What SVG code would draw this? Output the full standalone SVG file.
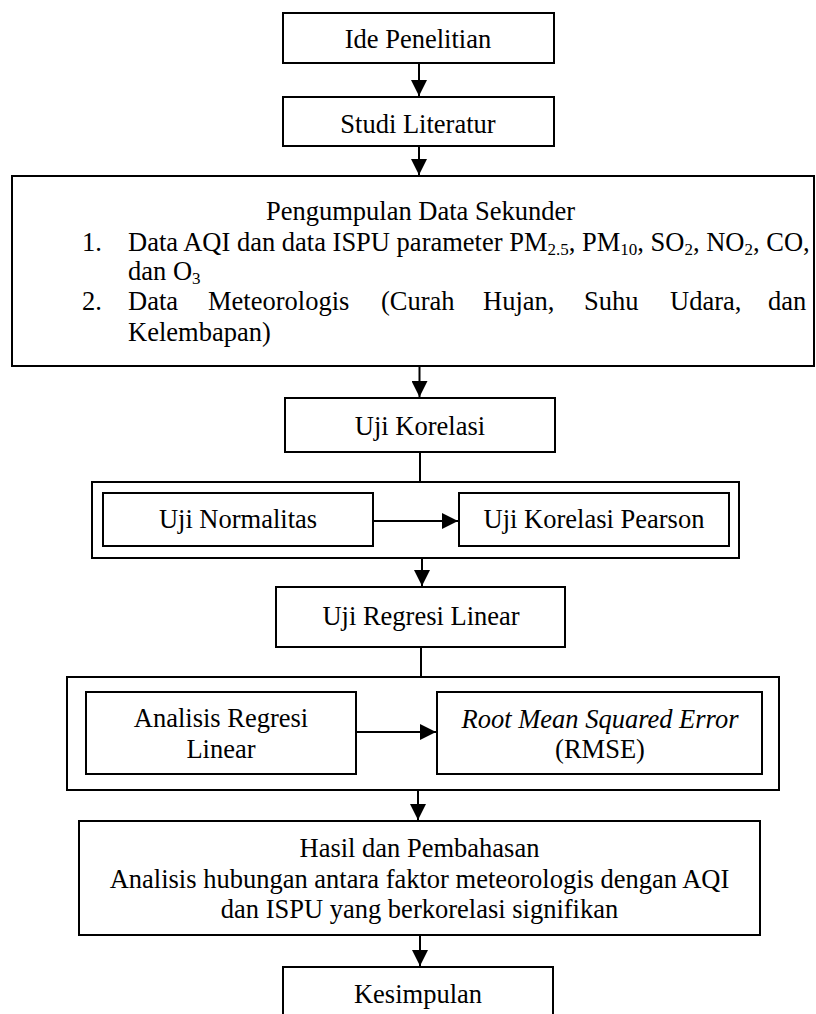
<svg xmlns="http://www.w3.org/2000/svg" width="816" height="1014" viewBox="0 0 816 1014">
<style>
.box{fill:#fff;stroke:#000;stroke-width:2}
.grp{fill:none;stroke:#000;stroke-width:2}
text{font-family:"Liberation Serif","Times New Roman",serif;font-size:26.5px;fill:#000}
.c{text-anchor:middle}
.i{font-style:italic}
.sub{font-size:17px}
.ln{stroke:#000;stroke-width:2;fill:none}
</style>
<defs>
<marker id="ah" markerUnits="userSpaceOnUse" markerWidth="16" markerHeight="16" viewBox="0 0 16 16" refX="16" refY="8" orient="auto">
<path d="M0,0 L16,8 L0,16 Z" fill="#000"/>
</marker>
</defs>
<rect width="816" height="1014" fill="#fff"/>
<g id="ide">
<rect class="box" x="283" y="13" width="271" height="50"/>
<text class="c" x="418" y="48">Ide Penelitian</text>
</g>
<g id="studi">
<rect class="box" x="283" y="97" width="271" height="49"/>
<text class="c" x="418" y="133">Studi Literatur</text>
</g>
<g id="pengumpulan">
<rect class="box" x="12" y="176" width="802" height="190"/>
<text class="c" x="420.5" y="220">Pengumpulan Data Sekunder</text>
<text x="82" y="251">1.</text>
<text x="128" y="251">Data AQI dan data ISPU parameter PM<tspan class="sub" dy="4">2.5</tspan><tspan dy="-4">, PM</tspan><tspan class="sub" dy="4">10</tspan><tspan dy="-4">, SO</tspan><tspan class="sub" dy="4">2</tspan><tspan dy="-4">, NO</tspan><tspan class="sub" dy="4">2</tspan><tspan dy="-4">, CO,</tspan></text>
<text x="128" y="280">dan O<tspan class="sub" dy="4">3</tspan></text>
<text x="82" y="310">2.</text>
<text y="310"><tspan x="128">Data</tspan><tspan x="208">Meteorologis</tspan><tspan x="381">(Curah</tspan><tspan x="483">Hujan,</tspan><tspan x="584">Suhu</tspan><tspan x="670">Udara,</tspan><tspan x="768">dan</tspan></text>
<text x="128" y="341">Kelembapan)</text>
</g>
<g id="ujikorelasi">
<rect class="box" x="285" y="398" width="270" height="54"/>
<text class="c" x="420" y="435">Uji Korelasi</text>
</g>
<g id="korelasi-group">
<rect class="grp" x="92" y="482" width="647" height="76"/>
</g>
<g id="normalitas">
<rect class="box" x="103" y="493" width="270" height="53"/>
<text class="c" x="238" y="528">Uji Normalitas</text>
</g>
<g id="pearson">
<rect class="box" x="459" y="493" width="270" height="53"/>
<text class="c" x="594" y="528">Uji Korelasi Pearson</text>
</g>
<g id="ujiregresi">
<rect class="box" x="276" y="587" width="289" height="60"/>
<text class="c" x="421" y="625">Uji Regresi Linear</text>
</g>
<g id="regresi-group">
<rect class="grp" x="67" y="677" width="712" height="113"/>
</g>
<g id="analisis">
<rect class="box" x="86" y="692" width="270" height="82"/>
<text class="c" x="221" y="727">Analisis Regresi</text>
<text class="c" x="221" y="758">Linear</text>
</g>
<g id="rmse">
<rect class="box" x="437" y="692" width="325" height="82"/>
<text class="c i" x="600" y="728">Root Mean Squared Error</text>
<text class="c" x="600" y="758">(RMSE)</text>
</g>
<g id="hasil">
<rect class="box" x="79" y="821" width="681" height="114"/>
<text class="c" x="419.5" y="857">Hasil dan Pembahasan</text>
<text class="c" x="419.5" y="888">Analisis hubungan antara faktor meteorologis dengan AQI</text>
<text class="c" x="419.5" y="918">dan ISPU yang berkorelasi signifikan</text>
</g>
<g id="kesimpulan">
<rect class="box" x="283" y="967" width="270" height="60"/>
<text class="c" x="418" y="1003">Kesimpulan</text>
</g>
<g id="connectors">
<line class="ln" x1="419" y1="64" x2="419" y2="96" marker-end="url(#ah)"/>
<line class="ln" x1="419" y1="147" x2="419" y2="175" marker-end="url(#ah)"/>
<line class="ln" x1="419.5" y1="367" x2="419.5" y2="397" marker-end="url(#ah)"/>
<line class="ln" x1="420" y1="453" x2="420" y2="481"/>
<line class="ln" x1="374" y1="521" x2="458" y2="521" marker-end="url(#ah)"/>
<line class="ln" x1="422" y1="559" x2="422" y2="586" marker-end="url(#ah)"/>
<line class="ln" x1="421" y1="648" x2="421" y2="676"/>
<line class="ln" x1="357" y1="732" x2="436" y2="732" marker-end="url(#ah)"/>
<line class="ln" x1="418" y1="791" x2="418" y2="820" marker-end="url(#ah)"/>
<line class="ln" x1="420" y1="936" x2="420" y2="966" marker-end="url(#ah)"/>
</g>
</svg>
